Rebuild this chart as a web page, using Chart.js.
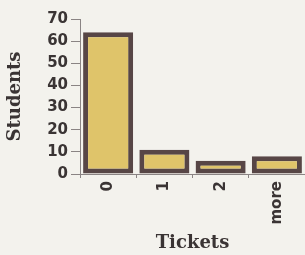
<!DOCTYPE html>
<html>
<head>
<meta charset="utf-8">
<script src="https://cdn.jsdelivr.net/npm/chart.js@4"></script>
<style>
html,body{margin:0;padding:0;background:#f3f2ed;}
#wrap{width:305px;height:255px;position:relative;}
</style>
</head>
<body>
<div id="wrap"><canvas id="c" width="305" height="255"></canvas></div>
<script>
const categories = ["0", "1", "2", "more"];
const students = [64, 11, 6, 8];
const yTicks = [0, 10, 20, 30, 40, 50, 60, 70];
const xTitle = "Tickets";
const yTitle = "Students";

const textColor = "#3a3434";
new Chart(document.getElementById("c"), {
  type: "bar",
  data: {
    labels: categories,
    datasets: [{
      data: students,
      backgroundColor: "#dfc46a",
      borderColor: "#574646",
      borderWidth: 5,
      borderSkipped: false,
      categoryPercentage: 1,
      barPercentage: 0.89
    }]
  },
  options: {
    responsive: false,
    animation: false,
    devicePixelRatio: 1,
    layout: { padding: { top: 19, right: 0, left: 0, bottom: 0 } },
    plugins: { legend: { display: false }, tooltip: { enabled: false } },
    scales: {
      x: {
        grid: { display: true, drawOnChartArea: false, drawTicks: true, tickLength: 4, color: "#8a8484", offset: true },
        border: { display: true, color: "#8a8484", width: 1 },
        ticks: {
          color: textColor, font: { family: "DejaVu Sans", size: 15, weight: "bold" },
          minRotation: 90, maxRotation: 90, padding: 3, autoSkip: false
        },
        title: { display: true, text: xTitle, color: textColor,
          font: { family: "DejaVu Serif", size: 18, weight: "bold" }, padding: { top: 0, bottom: 1 } },
        afterFit: (s) => { s.height = 81; }
      },
      y: {
        min: yTicks[0], max: yTicks[yTicks.length - 1],
        afterBuildTicks: (s) => { s.ticks = yTicks.map(v => ({ value: v })); },
        grid: { display: true, drawOnChartArea: false, drawTicks: true, tickLength: 9, color: "#8a8484" },
        border: { display: true, color: "#8a8484", width: 1 },
        ticks: { color: textColor, font: { family: "DejaVu Sans", size: 15, weight: "bold" }, padding: 3, autoSkip: false },
        title: { display: true, text: yTitle, color: textColor,
          font: { family: "DejaVu Serif", size: 18, weight: "bold" }, padding: { top: 5, bottom: 2 } },
        afterFit: (s) => { s.width = 80; }
      }
    }
  }
});
</script>
</body>
</html>
